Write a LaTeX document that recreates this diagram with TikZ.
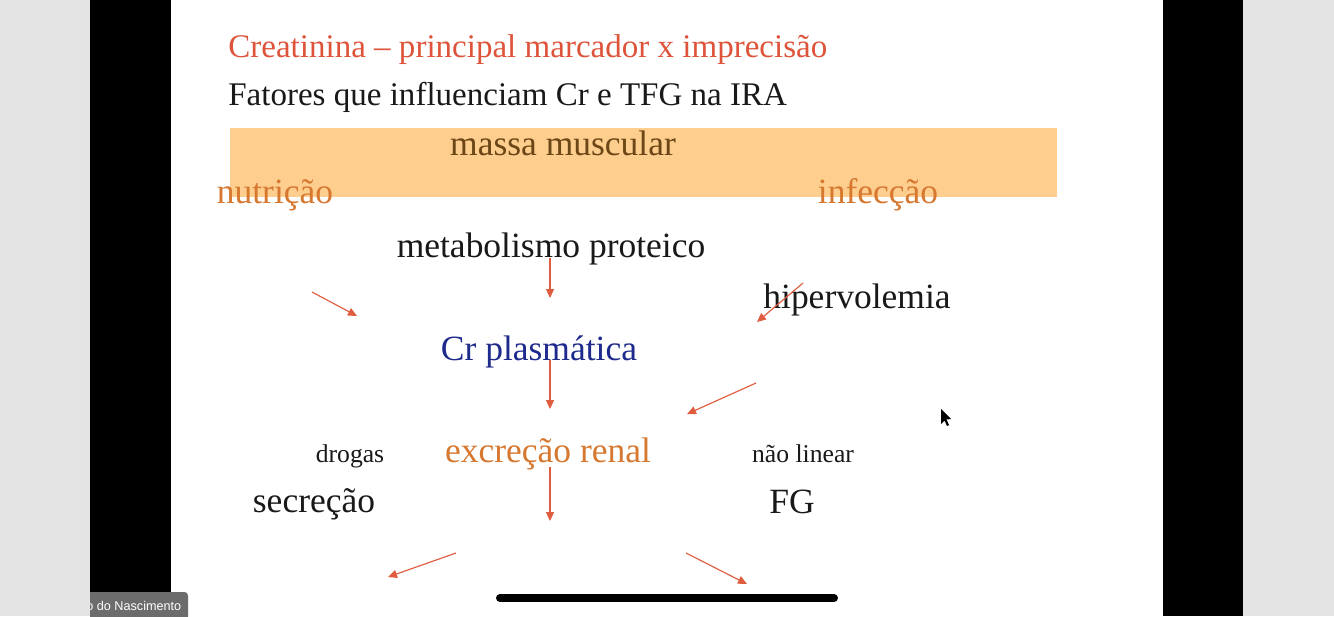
\documentclass[tikz,border=0pt]{standalone}
\usepackage{fontspec}
\setmainfont{Liberation Serif}
\setsansfont{Liberation Sans}
\usepackage{tikz}
\usetikzlibrary{arrows.meta, positioning, calc}
\definecolor{sidegray}{RGB}{228,228,228}
\definecolor{titlered}{RGB}{222,84,58}
\definecolor{arrowred}{RGB}{224,92,62}
\definecolor{orangetxt}{RGB}{214,120,48}
\definecolor{bandfill}{RGB}{253,206,142}
\definecolor{browntxt}{RGB}{108,70,22}
\definecolor{plasmablue}{RGB}{30,42,140}
\definecolor{darktxt}{RGB}{25,25,25}
\tikzset{
  slidetxt/.style={
    anchor=base, inner sep=0pt,
    font=\fontsize{20.2pt}{24pt}\selectfont, text=#1
  },
  smalltxt/.style={
    anchor=base, inner sep=0pt,
    font=\fontsize{14.6pt}{17pt}\selectfont, text=#1
  },
  headtxt/.style={
    anchor=base west, inner sep=0pt,
    font=\fontsize{18.8pt}{22pt}\selectfont, text=#1
  },
  redarrow/.style={-{Triangle[length=1.8mm, width=1.6mm]}, line width=0.65pt, color=arrowred},
}

\begin{document}
\begin{tikzpicture}[x=0.02cm, y=-0.02cm]
      \useasboundingbox (0,0) rectangle (1334,616);
      % screen frame
      \fill[sidegray] (0,0) rectangle (1334,616);
      \fill[black] (90,0) rectangle (171,616);
      \fill[black] (1163,0) rectangle (1243,616);
      \fill[white] (171,0) rectangle (1163,616);
      \fill[bandfill] (230,128) rectangle (1057,197);
      % texts
      \node[headtxt=titlered](titulo) at (228,57) {Creatinina -- principal marcador x imprecisão};
      \node[headtxt=darktxt](subtitulo) at (228,105) {Fatores que influenciam Cr e TFG na IRA};
      \node[slidetxt=browntxt](massa) at (563,155) {massa muscular};
      \node[slidetxt=orangetxt](nutri) at (275,203) {nutrição};
      \node[slidetxt=orangetxt](infec) at (878,203) {infecção};
      \node[slidetxt=darktxt](metab) at (551,257) {metabolismo proteico};
      \node[slidetxt=darktxt](hiperv) at (857,308) {hipervolemia};
      \node[slidetxt=plasmablue](crplasma) at (539,360) {Cr plasmática};
      \node[slidetxt=orangetxt](excrecao) at (548,462) {excreção renal};
      \node[smalltxt=darktxt](drogas) at (350,462) {drogas};
      \node[smalltxt=darktxt](naolin) at (803,462) {não linear};
      \node[slidetxt=darktxt](secrecao) at (314,512) {secreção};
      \node[slidetxt=darktxt](fg) at (792,513) {FG};
      % arrow ends
      \coordinate (p1) at (312,292); \coordinate (q1) at (357,316);
      \coordinate (p2) at (550,258); \coordinate (q2) at (550,298);
      \coordinate (p3) at (803,283); \coordinate (q3) at (757,322);
      \coordinate (p4) at (550,360); \coordinate (q4) at (550,409);
      \coordinate (p5) at (756,383); \coordinate (q5) at (687,414);
      \coordinate (p6) at (550,467); \coordinate (q6) at (550,521);
      \coordinate (p7) at (456,553); \coordinate (q7) at (388,577);
      \coordinate (p8) at (686,553); \coordinate (q8) at (747,584);
      \foreach \i in {1,...,8}
        \draw[redarrow](p\i)--(q\i);
      % mouse pointer
      \fill[black] (941,409) -- (941,424) -- (944.5,420.5) -- (947,426) -- (949,425) -- (946.5,419.5) -- (951,419) -- cycle;
      % home bar
      \draw[black, line width=8*0.02cm, line cap=round] (500,598) -- (834,598);
      % participant label
      \begin{scope}
        \clip (90,560) rectangle (200,616);
        \fill[gray!85!black, rounded corners=2pt] (80,592) rectangle (188,620);
        \node[anchor=base west, inner sep=0pt, font=\sffamily\fontsize{7.2pt}{8pt}\selectfont, text=white](user) at (86,610) {o do Nascimento};
      \end{scope}
    \end{tikzpicture}
\end{document}
